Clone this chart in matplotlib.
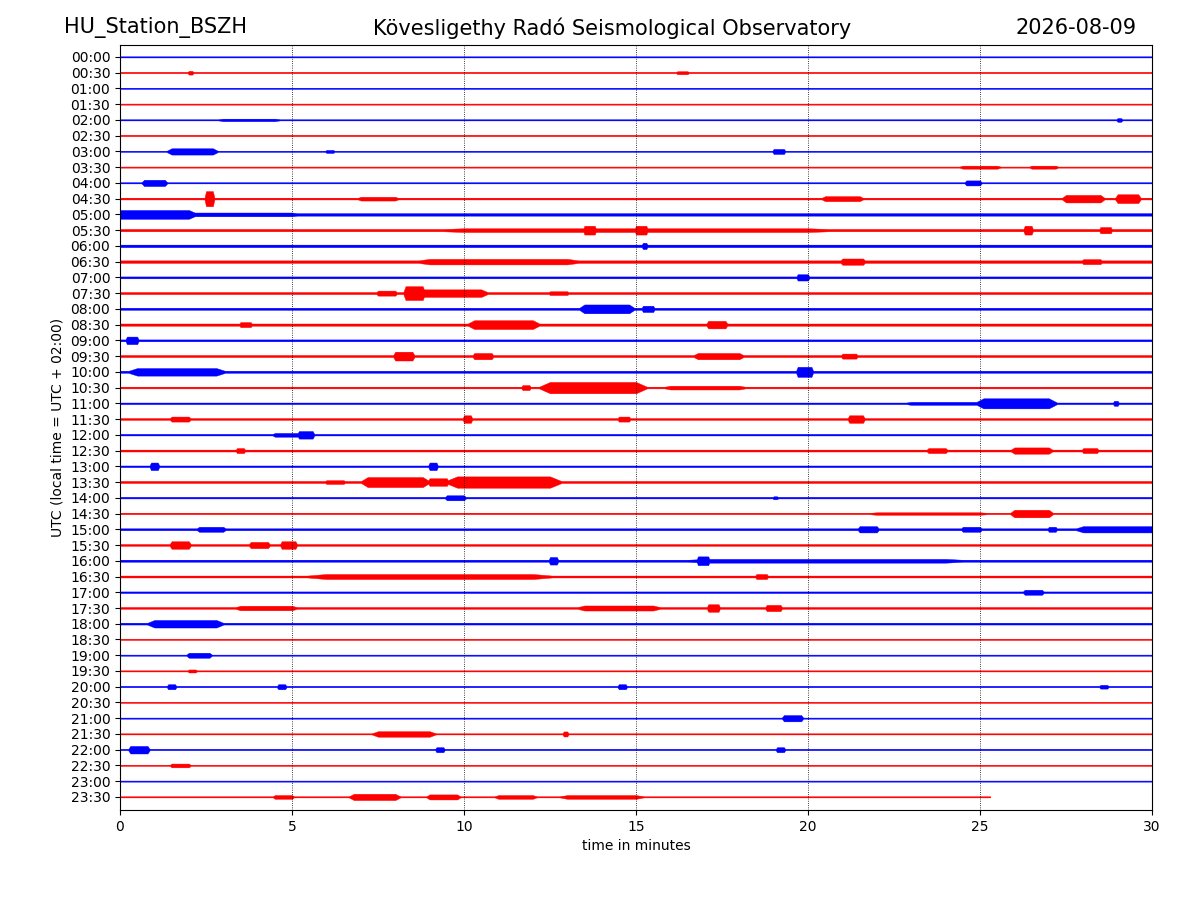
"""
helicorder style day plot, BSZH station
traces are drawn as amplitude envelopes read off the reference
"""
import numpy as np
import matplotlib
matplotlib.use("Agg")
import matplotlib.pyplot as plt

STATION = "HU_Station_BSZH"
TITLE = "Kövesligethy Radó Seismological Observatory"
DATE = "2026-08-09"
ROW_LABELS = [f"{h:02d}:{m:02d}" for h in range(24) for m in (0, 30)]
LAST_ROW_END = 25.3

# base noise half-amplitude per row (row spacing = 1)
BASE = [0.03] * 9 + [0.05, 0.08, 0.07, 0.08, 0.08, 0.06, 0.06, 0.06, 0.07,
        0.06, 0.06, 0.06, 0.05, 0.05, 0.05, 0.04, 0.06, 0.05, 0.06, 0.04,
        0.04, 0.06, 0.05, 0.06, 0.06, 0.05, 0.05, 0.05] + [0.03] * 11

# bursts: row -> list of (start min, end min, half-amplitude)
BURSTS = {
    1: [(2.0, 2.1, 0.15), (16.2, 16.5, 0.12)],
    4: [(3.0, 4.5, 0.10), (29.0, 29.1, 0.15)],
    6: [(1.5, 2.7, 0.25), (19.0, 19.3, 0.20), (6.0, 6.2, 0.12)],
    7: [(24.5, 25.5, 0.12), (26.5, 27.2, 0.12)],
    8: [(0.7, 1.3, 0.25), (24.6, 25.0, 0.20)],
    9: [(2.5, 2.7, 0.6), (7.0, 8.0, 0.15), (20.5, 21.5, 0.2), (27.5, 28.5, 0.3), (29.0, 29.6, 0.35)],
    10: [(0.0, 2.0, 0.35), (2.0, 5.0, 0.15)],
    11: [(13.5, 13.8, 0.35), (15.0, 15.3, 0.35), (10.0, 20.0, 0.15), (26.3, 26.5, 0.35), (28.5, 28.8, 0.25)],
    12: [(15.2, 15.3, 0.25)],
    13: [(9.0, 13.0, 0.22), (21.0, 21.6, 0.25), (28.0, 28.5, 0.2)],
    14: [(19.7, 20.0, 0.25)],
    15: [(7.5, 8.0, 0.2), (8.3, 8.8, 0.55), (8.8, 10.5, 0.3), (12.5, 13.0, 0.15)],
    16: [(13.5, 14.8, 0.35), (15.2, 15.5, 0.25)],
    17: [(3.5, 3.8, 0.2), (10.3, 12.0, 0.35), (17.1, 17.6, 0.3)],
    18: [(0.2, 0.5, 0.3)],
    19: [(8.0, 8.5, 0.35), (10.3, 10.8, 0.25), (16.8, 18.0, 0.25), (21.0, 21.4, 0.2)],
    20: [(0.5, 2.8, 0.3), (19.7, 20.1, 0.4)],
    21: [(12.5, 15.0, 0.45), (11.7, 11.9, 0.2), (16.0, 18.0, 0.15)],
    22: [(25.1, 27.0, 0.4), (28.9, 29.0, 0.2), (23.0, 25.0, 0.12)],
    23: [(1.5, 2.0, 0.2), (10.0, 10.2, 0.3), (14.5, 14.8, 0.2), (21.2, 21.6, 0.3)],
    24: [(5.2, 5.6, 0.3), (4.5, 5.2, 0.15)],
    25: [(3.4, 3.6, 0.2), (23.5, 24.0, 0.2), (26.0, 27.0, 0.25), (28.0, 28.4, 0.2)],
    26: [(0.9, 1.1, 0.3), (9.0, 9.2, 0.3)],
    27: [(7.2, 8.8, 0.4), (9.0, 9.5, 0.3), (9.8, 12.5, 0.45), (6.0, 6.5, 0.15)],
    28: [(9.5, 10.0, 0.2), (19.0, 19.1, 0.12)],
    29: [(26.0, 27.0, 0.3), (22.0, 25.0, 0.1)],
    30: [(2.3, 3.0, 0.2), (21.5, 22.0, 0.25), (24.5, 25.0, 0.2), (27.0, 27.2, 0.2), (28.0, 30.0, 0.25)],
    31: [(1.5, 2.0, 0.3), (3.8, 4.3, 0.25), (4.7, 5.1, 0.3)],
    32: [(12.5, 12.7, 0.3), (16.8, 17.1, 0.35), (17.0, 24.0, 0.15)],
    33: [(6.0, 12.0, 0.2), (18.5, 18.8, 0.2)],
    34: [(26.3, 26.8, 0.2)],
    35: [(3.5, 5.0, 0.18), (13.5, 15.5, 0.2), (17.1, 17.4, 0.3), (18.8, 19.2, 0.25)],
    36: [(1.0, 2.8, 0.3)],
    38: [(2.0, 2.6, 0.2)],
    39: [(2.0, 2.2, 0.12)],
    40: [(1.4, 1.6, 0.2), (4.6, 4.8, 0.2), (14.5, 14.7, 0.2), (28.5, 28.7, 0.15)],
    42: [(19.3, 19.8, 0.25)],
    43: [(7.5, 9.0, 0.22), (12.9, 13.0, 0.2)],
    44: [(0.3, 0.8, 0.3), (9.2, 9.4, 0.2), (19.1, 19.3, 0.2)],
    45: [(1.5, 2.0, 0.15)],
    47: [(4.5, 5.0, 0.15), (6.8, 8.0, 0.25), (9.0, 9.8, 0.2), (11.0, 12.0, 0.15), (13.0, 15.0, 0.15)],
}

fig = plt.figure(figsize=(12, 9), dpi=100)
ax = fig.add_axes([0.1, 0.1, 0.86, 0.85])

t = np.linspace(0, 30, 6001)
for i, lab in enumerate(ROW_LABELS):
    color = "blue" if i % 2 == 0 else "red"
    tt = t[t <= LAST_ROW_END] if i == len(ROW_LABELS) - 1 else t
    env = np.full_like(tt, BASE[i])
    for s, e, a in BURSTS.get(i, []):
        # soft-edged plateau over the burst
        edge = max(0.15 * (e - s), 0.05)
        shape = np.minimum((tt - s + edge) / edge, (e + edge - tt) / edge)
        shape = np.clip(shape, 0, 1)
        env = np.maximum(env, 0.8 * a * shape)
    ax.fill_between(tt, i - env, i + env, color=color, linewidth=0.3)
    ax.plot(tt, np.full_like(tt, i), color=color, linewidth=0.5)

for x in (5, 10, 15, 20, 25):
    ax.axvline(x, color="black", linestyle=":", linewidth=0.6)

ax.set_xlim(0, 30)
ax.set_ylim(47.83, -0.76)
ax.set_yticks(range(len(ROW_LABELS)))
ax.set_yticklabels(ROW_LABELS)
ax.set_xlabel("time in minutes")
ax.set_ylabel("UTC (local time = UTC + 02:00)")

fig.text(0.053, 0.969, STATION, fontsize=15, va="center")
fig.text(0.51, 0.969, TITLE, fontsize=15, va="center", ha="center")
fig.text(0.947, 0.969, DATE, fontsize=15, va="center", ha="right")

fig.savefig("out.png")
